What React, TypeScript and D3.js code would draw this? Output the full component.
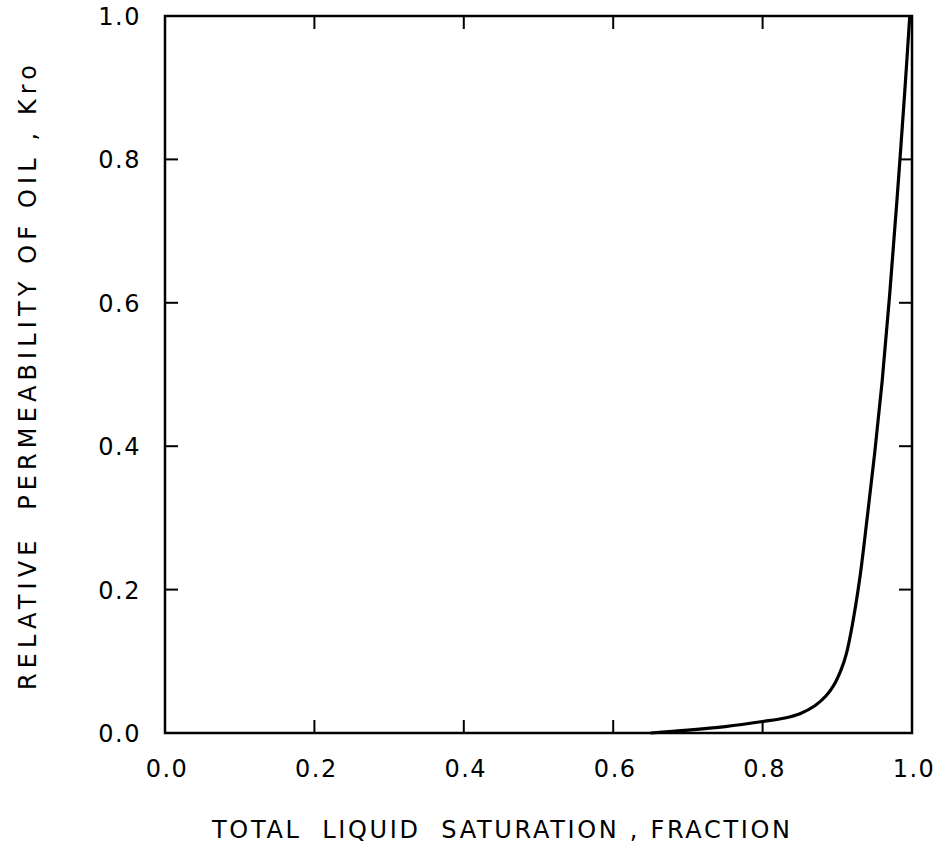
import React from "react";
import * as d3 from "d3";

const satX: number[] = [0.65, 0.70, 0.75, 0.80, 0.83, 0.85, 0.87, 0.885, 0.895, 0.905, 0.912, 0.92, 0.93, 0.94, 0.95, 0.96, 0.97, 0.98, 0.99, 0.997];
const kroY: number[] = [0.0, 0.004, 0.009, 0.016, 0.021, 0.027, 0.038, 0.052, 0.066, 0.088, 0.11, 0.15, 0.215, 0.30, 0.39, 0.49, 0.61, 0.745, 0.89, 1.0];
const tickValues: number[] = [0, 0.2, 0.4, 0.6, 0.8, 1.0];
const tickLabels: string[] = ["0.0", "0.2", "0.4", "0.6", "0.8", "1.0"];
const xTitle = "TOTAL  LIQUID  SATURATION , FRACTION";
const yTitle = "RELATIVE  PERMEABILITY OF OIL , Kro";

export default function App() {
  const W = 944, H = 854;
  const left = 165, right = 912, top = 16, bottom = 733;
  const x = d3.scaleLinear().domain([0, 1]).range([left, right]);
  const y = d3.scaleLinear().domain([0, 1]).range([bottom, top]);
  const pts: [number, number][] = satX.map((v, i) => [v, kroY[i]]);
  const line = d3.line<[number, number]>().x(d => x(d[0])).y(d => y(d[1])).curve(d3.curveCatmullRom.alpha(0.5));
  const font = "'DejaVu Sans', sans-serif";
  const tl = 13;
  const inner = tickValues.filter(v => v > 0 && v < 1);
  return (
    <svg width={W} height={H} style={{ position: "absolute", left: 0, top: 0, background: "#fff" }}>
      <rect x={0} y={0} width={W} height={H} fill="#fff" />
      <rect x={left} y={top} width={right - left} height={bottom - top} fill="none" stroke="#000" strokeWidth={2.5} />
      {inner.map(v => (
        <g key={"t" + v} stroke="#000" strokeWidth={2}>
          <line x1={x(v)} x2={x(v)} y1={bottom} y2={bottom - tl} />
          <line x1={x(v)} x2={x(v)} y1={top} y2={top + tl} />
          <line x1={left} x2={left + tl} y1={y(v)} y2={y(v)} />
          <line x1={right} x2={right - tl} y1={y(v)} y2={y(v)} />
        </g>
      ))}
      <path d={line(pts) || ""} fill="none" stroke="#000" strokeWidth={3.2} />
      {tickValues.map((v, i) => (
        <text key={"xl" + v} x={x(v) + 2} y={777} fontFamily={font} fontSize={24} letterSpacing={1.5} textAnchor="middle">{tickLabels[i]}</text>
      ))}
      {tickValues.map((v, i) => (
        <text key={"yl" + v} x={141} y={y(v) + 9} fontFamily={font} fontSize={24} letterSpacing={1.5} textAnchor="end">{tickLabels[i]}</text>
      ))}
      <text x={212} y={838} fontFamily={font} fontSize={24} textLength={578} lengthAdjust="spacing" style={{ whiteSpace: "pre" }}>{xTitle}</text>
      <text transform={`translate(36,690) rotate(-90)`} x={0} y={0} fontFamily={font} fontSize={24} textLength={625} lengthAdjust="spacing" style={{ whiteSpace: "pre" }}>{yTitle}</text>
    </svg>
  );
}
